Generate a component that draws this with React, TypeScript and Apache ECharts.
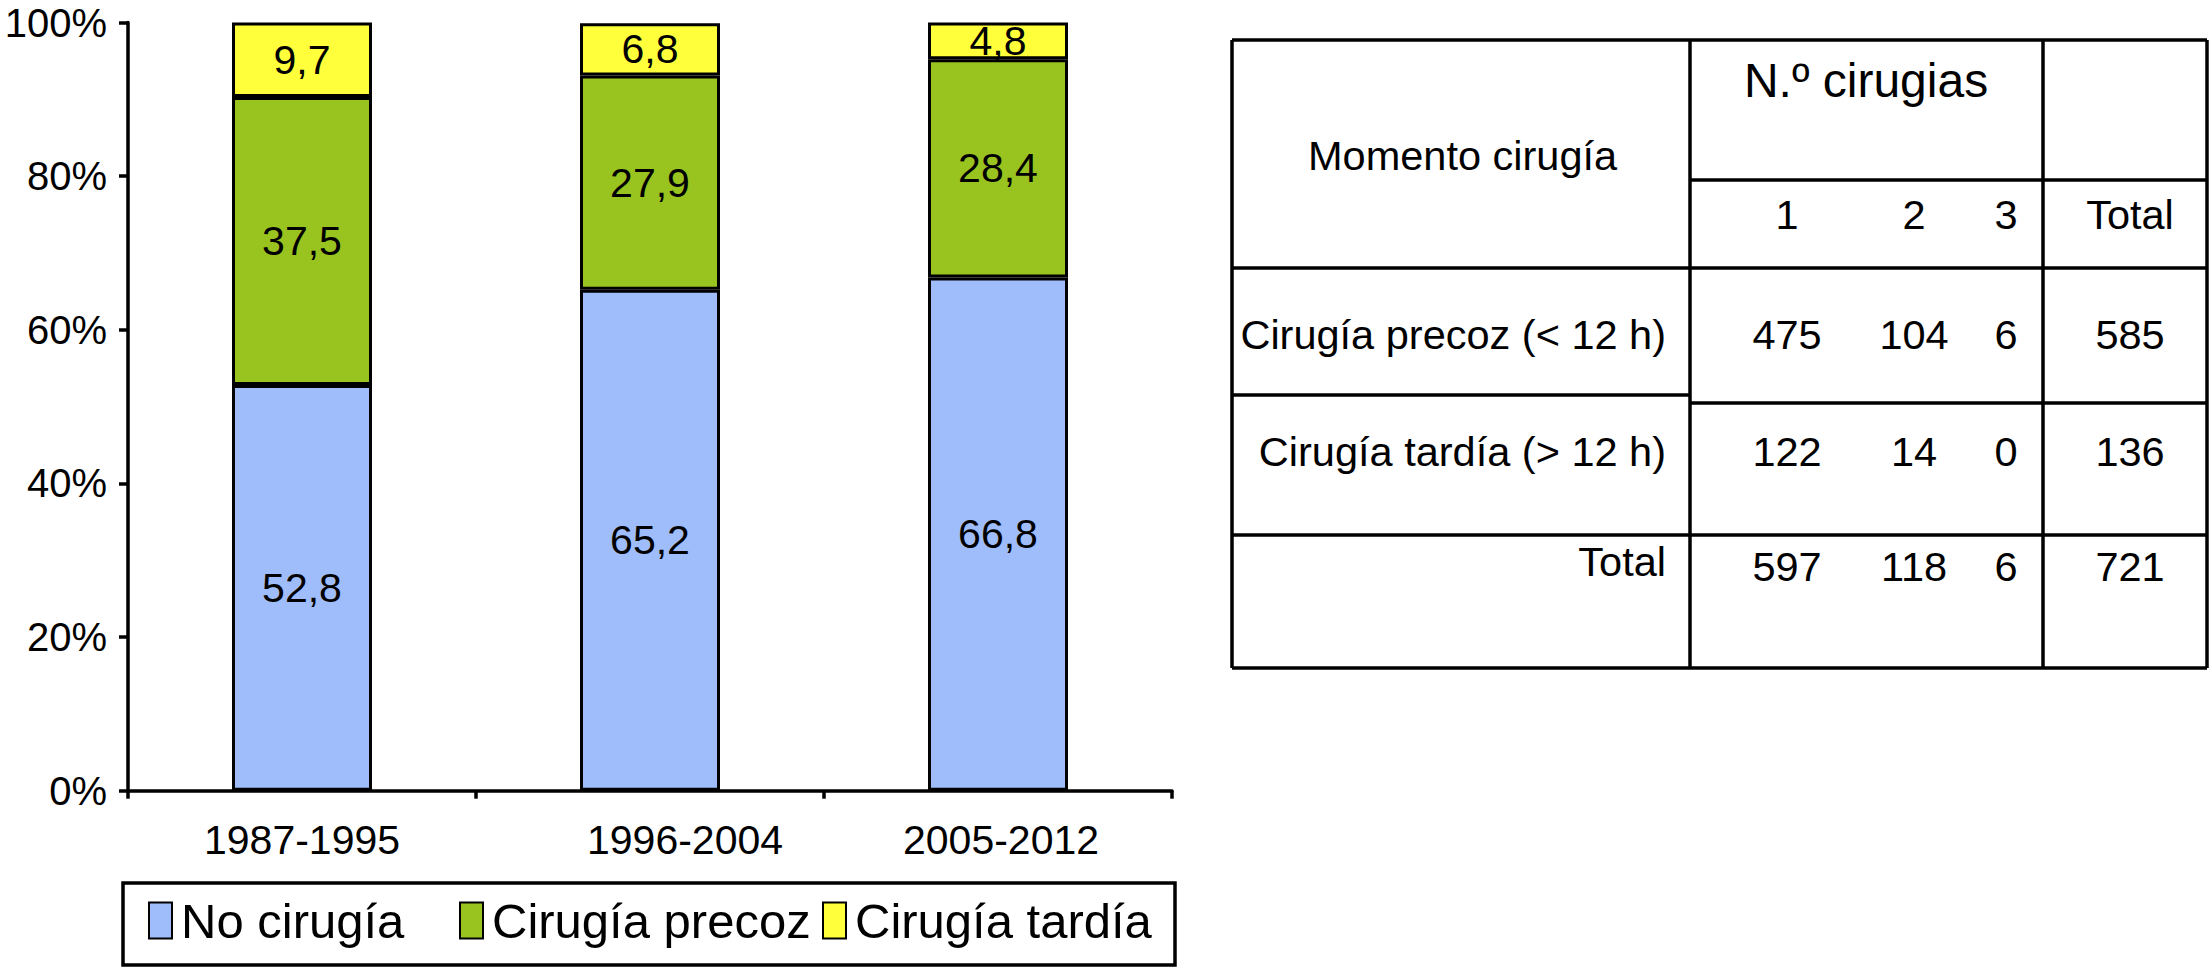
import React, { useEffect, useRef } from "react";
import * as echarts from "echarts";

// ---- Data ----
const periods = ["1987-1995", "1996-2004", "2005-2012"];
const noCirugia = [52.8, 65.2, 66.8];
const cirugiaPrecoz = [37.5, 27.9, 28.4];
const cirugiaTardia = [9.7, 6.8, 4.8];
const yTicks = [0, 20, 40, 60, 80, 100];
const seriesNames = ["No cirugía", "Cirugía precoz", "Cirugía tardía"];

// Table data
const tableTitle = "Momento cirugía";
const tableGroupHeader = "N.º cirugias";
const tableColHeaders = ["1", "2", "3", "Total"];
const tableRowLabels = ["Cirugía precoz (< 12 h)", "Cirugía tardía (> 12 h)", "Total"];
const precozCounts = [475, 104, 6, 585];
const tardiaCounts = [122, 14, 0, 136];
const totalCounts = [597, 118, 6, 721];

const FONT = '"Liberation Sans", Arial, Helvetica, sans-serif';
const COLORS = ["#9fbdfa", "#99c31f", "#ffff3b"];

function buildTable(): any[] {
  const els: any[] = [];
  const L = 1232, R = 2207, T = 40, B = 668, C1 = 1690, C2 = 2043;
  const seg = (x1: number, y1: number, x2: number, y2: number) =>
    els.push({
      type: "line",
      shape: { x1, y1, x2, y2 },
      style: { stroke: "#000", lineWidth: 3.5 },
    });
  seg(L, T, R, T);
  seg(L, B, R, B);
  seg(L, T, L, B);
  seg(R, T, R, B);
  seg(C1, T, C1, B);
  seg(C2, T, C2, B);
  seg(C1, 180, R, 180);
  seg(L, 268, R, 268);
  seg(L, 395, C1, 395);
  seg(C1, 403, R, 403);
  seg(L, 535, R, 535);

  const txt = (text: string, x: number, y: number, align: string, size = 41.5) =>
    els.push({
      type: "text",
      x,
      y,
      style: {
        text,
        fontSize: size,
        fontFamily: FONT,
        fill: "#000",
        align,
        verticalAlign: "middle",
      },
    });
  txt(tableTitle, 1308, 155, "left");
  txt(tableGroupHeader, 1866, 80, "center", 48);
  const colX = [1787, 1914, 2006, 2130];
  tableColHeaders.forEach((h, i) => txt(h, colX[i], 214, "center"));
  const rowY = [334, 451, 566];
  const labelY = [334, 451, 561];
  tableRowLabels.forEach((r, i) => txt(r, 1666, labelY[i], "right"));
  [precozCounts, tardiaCounts, totalCounts].forEach((row, ri) =>
    row.forEach((v, ci) => txt(String(v), colX[ci], rowY[ri], "center"))
  );
  return els;
}

export default function App() {
  const ref = useRef<HTMLDivElement>(null);
  useEffect(() => {
    if (!ref.current) return;
    const chart = echarts.init(ref.current, null, { renderer: "svg" });
    const fmt = (p: any) => String(p.value).replace(".", ",");
    const mkSeries = (name: string, data: number[], color: string) => ({
      name,
      type: "bar",
      stack: "total",
      data,
      barWidth: 140,
      itemStyle: { color, borderColor: "#000", borderWidth: 3 },
      label: {
        show: true,
        position: "inside",
        formatter: fmt,
        color: "#000",
        fontSize: 41,
        fontFamily: FONT,
      },
    });
    const legendCommon = {
      padding: 0,
      itemWidth: 23,
      itemHeight: 36,
      icon: "rect",
      itemStyle: { borderColor: "#000", borderWidth: 2 },
      textStyle: { fontSize: 49, fontFamily: FONT, color: "#000", padding: [0, 0, 0, 4] },
      selectedMode: false,
    };
    chart.setOption({
      animation: false,
      backgroundColor: "#fff",
      grid: { left: 128, right: 1038, top: 22.5, bottom: 177.3, containLabel: false },
      xAxis: {
        type: "category",
        data: periods,
        axisLine: { lineStyle: { color: "#000", width: 3.5 } },
        axisTick: { show: true, length: 8, lineStyle: { color: "#000", width: 3.5 } },
        axisLabel: {
          color: "#000",
          fontSize: 41,
          fontFamily: FONT,
          margin: 29,
          formatter: (v: string) =>
            v === "1996-2004" ? `{s|${v}}` : v === "2005-2012" ? `{t|${v}}` : `{n|${v}}`,
          rich: {
            n: { fontSize: 41, fontFamily: FONT, color: "#000" },
            s: { fontSize: 41, fontFamily: FONT, color: "#000", padding: [0, 0, 0, 70] },
            t: { fontSize: 41, fontFamily: FONT, color: "#000", padding: [0, 0, 0, 6] },
          },
        },
      },
      yAxis: {
        type: "value",
        min: yTicks[0],
        max: yTicks[yTicks.length - 1],
        interval: yTicks[1] - yTicks[0],
        axisLine: { show: true, lineStyle: { color: "#000", width: 3.5 } },
        axisTick: { show: true, length: 9, lineStyle: { color: "#000", width: 3.5 } },
        splitLine: { show: false },
        axisLabel: {
          color: "#000",
          fontSize: 40,
          fontFamily: FONT,
          margin: 21,
          formatter: "{value}%",
        },
      },
      legend: [
        { ...legendCommon, data: [seriesNames[0]], left: 148, top: 896 },
        { ...legendCommon, data: [seriesNames[1]], left: 459, top: 896 },
        { ...legendCommon, data: [seriesNames[2]], left: 822, top: 896 },
      ],
      graphic: [
        {
          type: "rect",
          shape: { x: 123, y: 883, width: 1052, height: 82 },
          style: { fill: "none", stroke: "#000", lineWidth: 3.5 },
          z: -1,
        },
        ...buildTable(),
      ],
      series: [
        mkSeries(seriesNames[0], noCirugia, COLORS[0]),
        mkSeries(seriesNames[1], cirugiaPrecoz, COLORS[1]),
        mkSeries(seriesNames[2], cirugiaTardia, COLORS[2]),
      ],
    });
    return () => chart.dispose();
  }, []);
  return (
    <div
      ref={ref}
      style={{ position: "fixed", left: 0, top: 0, width: 2210, height: 968, background: "#fff" }}
    />
  );
}
